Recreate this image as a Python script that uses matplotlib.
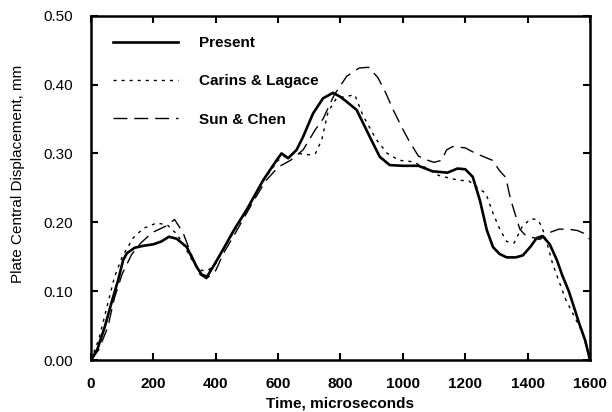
import matplotlib
matplotlib.use("Agg")
import matplotlib.pyplot as plt

plt.rcParams['font.family'] = ['Liberation Sans', 'DejaVu Sans']

# Present (solid)
t_present = [0, 20, 44, 70, 87, 103, 115, 140, 170, 200, 225, 250, 275, 307, 339, 355, 372,
             391, 423, 460, 499, 552, 595, 611, 632, 659, 680, 712, 744, 776, 800, 820, 852,
             894, 926, 958, 1000, 1050, 1095, 1143, 1175, 1200, 1224, 1247, 1269, 1289, 1310,
             1333, 1362, 1385, 1410, 1429, 1448, 1471, 1494, 1512, 1532, 1550, 1564, 1585, 1600]
y_present = [0, 0.015, 0.048, 0.09, 0.116, 0.145, 0.155, 0.163, 0.166, 0.168, 0.172, 0.179,
             0.176, 0.164, 0.135, 0.124, 0.121, 0.135, 0.16, 0.19, 0.218, 0.261, 0.29, 0.30,
             0.293, 0.305, 0.324, 0.358, 0.38, 0.388, 0.382, 0.375, 0.363, 0.324, 0.295, 0.283,
             0.282, 0.282, 0.274, 0.272, 0.278, 0.277, 0.266, 0.232, 0.189, 0.164, 0.154, 0.149,
             0.149, 0.152, 0.165, 0.177, 0.18, 0.168, 0.145, 0.122, 0.1, 0.075, 0.055, 0.028, 0.0]

# Carins & Lagace (dotted)
t_carins = [0, 25, 50, 75, 100, 135, 167, 211, 245, 275, 300, 330, 355, 375, 400, 430, 470,
            520, 560, 600, 630, 660, 700, 720, 740, 760, 787, 820, 846, 872, 915, 950, 988,
            1030, 1070, 1115, 1150, 1180, 1212, 1240, 1266, 1290, 1311, 1333, 1357, 1383,
            1410, 1430, 1445, 1465, 1480, 1522, 1576, 1600]
y_carins = [0, 0.03, 0.075, 0.12, 0.15, 0.177, 0.191, 0.199, 0.196, 0.183, 0.165, 0.14, 0.13,
            0.13, 0.14, 0.165, 0.195, 0.235, 0.265, 0.29, 0.298, 0.30, 0.298, 0.30, 0.32, 0.36,
            0.38, 0.383, 0.385, 0.355, 0.32, 0.30, 0.29, 0.288, 0.28, 0.268, 0.264, 0.261, 0.26,
            0.25, 0.242, 0.212, 0.19, 0.172, 0.17, 0.194, 0.205, 0.204, 0.195, 0.165, 0.14,
            0.088, 0.04, 0.0]

# Sun & Chen (dashed)
t_sun = [0, 25, 54, 75, 100, 130, 160, 196, 243, 268, 295, 320, 350, 370, 400, 425, 470, 520,
         560, 600, 640, 680, 720, 744, 780, 820, 860, 890, 920, 945, 967, 1000, 1020, 1050,
         1080, 1100, 1125, 1140, 1160, 1200, 1225, 1260, 1287, 1310, 1330, 1345, 1360, 1375,
         1391, 1415, 1439, 1470, 1500, 1530, 1560, 1585, 1600]
y_sun = [0, 0.015, 0.048, 0.09, 0.125, 0.153, 0.17, 0.185, 0.195, 0.204, 0.185, 0.155, 0.124,
         0.118, 0.13, 0.155, 0.19, 0.23, 0.26, 0.28, 0.29, 0.305, 0.335, 0.35, 0.385, 0.412,
         0.424, 0.425, 0.41, 0.388, 0.365, 0.335, 0.318, 0.296, 0.29, 0.287, 0.29, 0.305, 0.31,
         0.308, 0.302, 0.295, 0.29, 0.275, 0.265, 0.234, 0.212, 0.19, 0.182, 0.178, 0.175,
         0.185, 0.19, 0.19, 0.188, 0.183, 0.175]

x_ticks = [0, 200, 400, 600, 800, 1000, 1200, 1400, 1600]
y_ticks = [0.0, 0.1, 0.2, 0.3, 0.4, 0.5]

fig = plt.figure(figsize=(6.12, 4.12), dpi=100)
ax = fig.add_axes([0.1487, 0.1262, 0.8153, 0.8358])

ax.plot(t_present, y_present, color='black', lw=1.9, label='Present')
ax.plot(t_carins, y_carins, color='black', lw=1.0, linestyle=(0, (2.2, 3.6)), label='Carins & Lagace')
ax.plot(t_sun, y_sun, color='black', lw=1.0, linestyle=(0, (10, 5)), label='Sun & Chen')

ax.set_xlim(0, 1600)
ax.set_ylim(0, 0.5)
ax.set_xticks(x_ticks)
ax.set_xticklabels([str(v) for v in x_ticks], fontweight='bold')
ax.set_yticks(y_ticks)
ax.set_yticklabels([f"{v:.2f}" for v in y_ticks])

ax.tick_params(axis='both', direction='in', length=5, width=1.5, labelsize=11,
               top=True, right=True)
ax.tick_params(axis='x', pad=12)
ax.tick_params(axis='y', pad=13)
for s in ax.spines.values():
    s.set_linewidth(1.8)

ax.set_xlabel('Time, microseconds', fontsize=11, fontweight='bold', labelpad=4)
ax.set_ylabel('Plate Central Displacement, mm', fontsize=11)
ax.yaxis.set_label_coords(-0.132, 0.54)

ax.legend(loc='upper left', bbox_to_anchor=(0.045, 0.94), frameon=False,
          prop={'size': 11, 'weight': 'bold'},
          handlelength=4.2, handletextpad=1.4, labelspacing=1.58, borderpad=0, borderaxespad=0)

fig.savefig('out.png', dpi=100)
